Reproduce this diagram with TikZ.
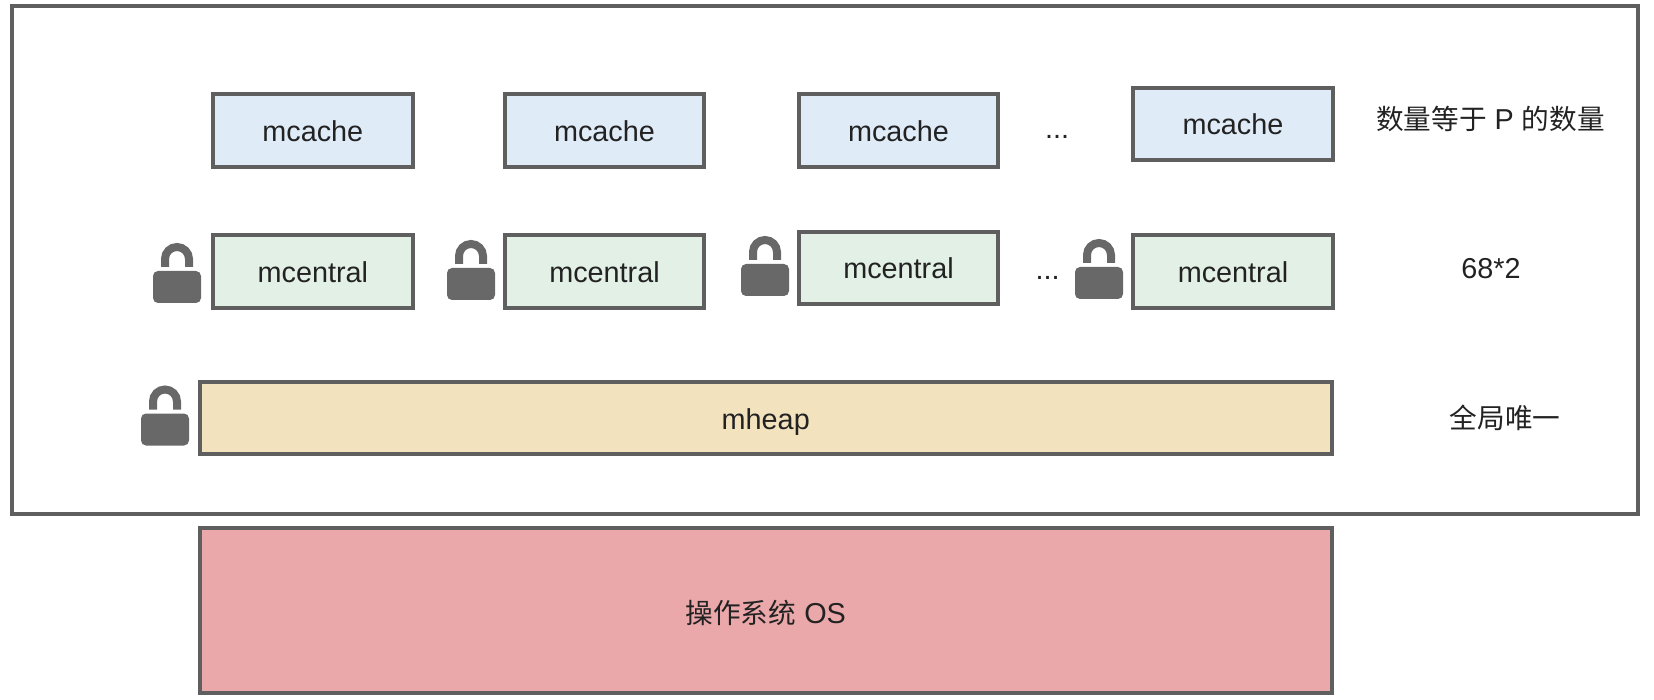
\documentclass[tikz,border=0pt]{standalone}
\usepackage{fontspec}
\setmainfont{Liberation Sans}
\newfontfamily\cjk[Scale=0.96]{Noto Sans CJK SC}
\definecolor{edgegray}{HTML}{5F5F5F}
\definecolor{lockgray}{HTML}{686868}
\definecolor{textdark}{HTML}{222222}
\definecolor{cachefill}{HTML}{DFECF8}
\definecolor{centralfill}{HTML}{E2F0E6}
\definecolor{heapfill}{HTML}{F2E2BE}
\definecolor{osfill}{HTML}{EBA8AA}
\tikzset{
	blockbox/.style={draw=edgegray,line width=4pt,inner sep=0pt,text=textdark,text height=27pt,text depth=5pt,font=\fontsize{28.8}{32}\selectfont},
	cachebox/.style={blockbox,fill=cachefill,minimum width=199.5pt,minimum height=72.5pt},
	centralbox/.style={blockbox,fill=centralfill,minimum width=199.5pt,minimum height=72.5pt},
	sidetext/.style={text=textdark,inner sep=0pt,font=\fontsize{28.8}{32}\selectfont},
	padlock/.pic={
		\fill[lockgray,rounded corners=5pt] (-24,-2) rectangle (24,30);
		\draw[lockgray,line width=8pt] (-12,-6) -- (-12,-14) arc (180:360:12) -- (12,-6);
	}
}
\begin{document}
\begin{tikzpicture}[x=1pt,y=-1pt]
	\useasboundingbox (0,0) rectangle (1654,700);
	\coordinate (c1) at (312.85,130.4);
	\coordinate (c2) at (604.5,130.4);
	\coordinate (c3) at (898.5,130.4);
	\coordinate (c4) at (1233,124);
	\coordinate (m1) at (312.85,271.5);
	\coordinate (m2) at (604.5,271.5);
	\coordinate (m3) at (898.5,268);
	\coordinate (m4) at (1233,271.5);
	\node[draw=edgegray,line width=4pt,minimum width=1626.4pt,minimum height=508pt,inner sep=0pt] (frame) at (824.7,260) {};
	\node[cachebox] (mcache1) at (c1) {mcache};
	\node[cachebox] (mcache2) at (c2) {mcache};
	\node[cachebox] (mcache3) at (c3) {mcache};
	\node[cachebox] (mcache4) at (c4) {mcache};
	\node[centralbox] (mcentral1) at (m1) {mcentral};
	\node[centralbox] (mcentral2) at (m2) {mcentral};
	\node[centralbox] (mcentral3) at (m3) {mcentral};
	\node[centralbox] (mcentral4) at (m4) {mcentral};
	\node[blockbox,fill=heapfill,minimum width=1132.5pt,minimum height=72pt] (mheap) at (765.75,418) {mheap};
	\node[blockbox,fill=osfill,minimum width=1132.5pt,minimum height=165pt,text height=31pt] (os) at (765.75,610.5) {{\cjk 操作系统} OS};
	\pic (lock1) at (177,273) {padlock};
	\pic (lock2) at (471,270) {padlock};
	\pic (lock3) at (765,266) {padlock};
	\pic (lock4) at (1099,269) {padlock};
	\pic (lock5) at (165,415.5) {padlock};
	\node[sidetext,anchor=base] (dots1) at ([shift={(-176,14.5)}]c4) {...};
	\node[sidetext,anchor=base] (dots2) at ([shift={(-185.5,8)}]m4) {...};
	\node[sidetext] (count1) at (1490.5,119) {{\cjk 数量等于} P {\cjk 的数量}};
	\node[sidetext] (count2) at (1491,269) {68*2};
	\node[sidetext] (count3) at (1505,418) {\cjk 全局唯一};
\end{tikzpicture}
\end{document}
